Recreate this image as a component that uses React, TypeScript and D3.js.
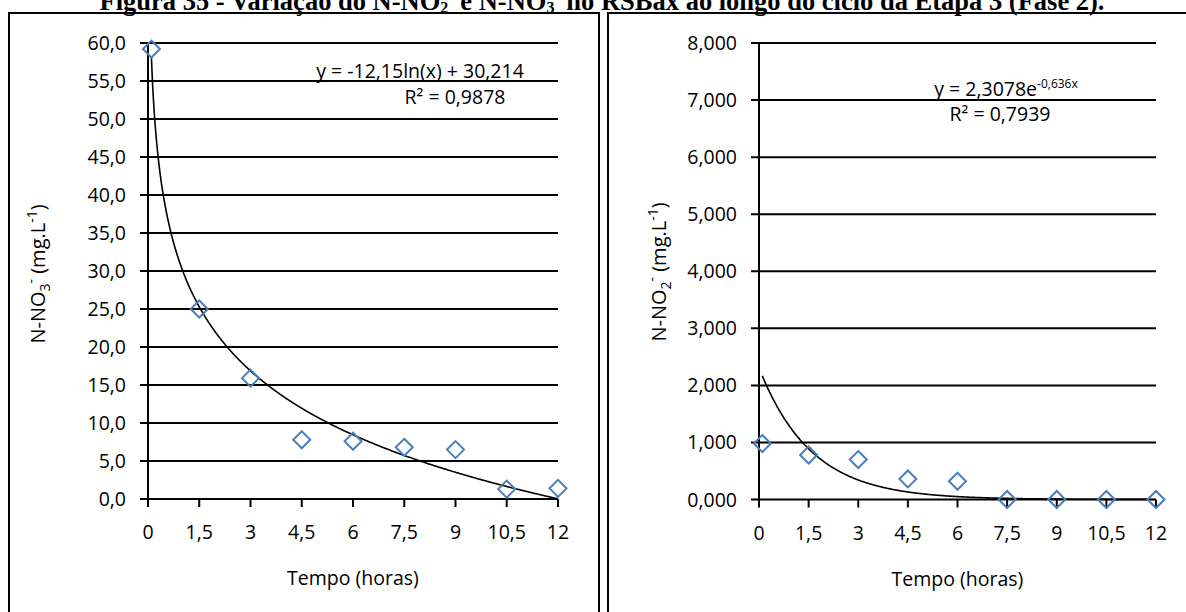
import React from "react";
import * as d3 from "d3";

const timeTicks = [0, 1.5, 3, 4.5, 6, 7.5, 9, 10.5, 12];
const sampleTimes = [0.1, 1.5, 3, 4.5, 6, 7.5, 9, 10.5, 12];
const no3Values = [59.2, 25.0, 15.9, 7.8, 7.6, 6.8, 6.5, 1.3, 1.4];
const no2Values = [0.98, 0.78, 0.7, 0.36, 0.32, 0, 0, 0, 0];
const no3Ticks = [0, 5, 10, 15, 20, 25, 30, 35, 40, 45, 50, 55, 60];
const no2Ticks = [0, 1, 2, 3, 4, 5, 6, 7, 8];
const no3FitCoef = { a: -12.15, b: 30.214 };
const no2FitCoef = { a: 2.3078, b: -0.636 };

const FONT = "'Open Sans', sans-serif";
const FS = 19.5;
const BLUE = "#4A7EBB";

const comma = (s: string) => s.replace(".", ",");
const fmtTime = (v: number) => comma(String(v));

type PanelProps = {
  plotL: number;
  plotR: number;
  plotT: number;
  plotB: number;
  yMax: number;
  yTicks: number[];
  yFmt: (v: number) => string;
  values: number[];
  fit: (x: number) => number;
  yTitle: React.ReactNode;
  yTitleX: number;
  yTitleY: number;
  children?: React.ReactNode;
};

function Panel(p: PanelProps) {
  const x = d3.scaleLinear().domain([0, 12]).range([p.plotL, p.plotR]);
  const y = d3.scaleLinear().domain([0, p.yMax]).range([p.plotB, p.plotT]);
  const fitXs = d3.range(0.1, 12.0001, 0.02);
  const line = d3
    .line<number>()
    .x((d) => x(d))
    .y((d) => y(d3.max([0, p.fit(d)]) as number))
    .curve(d3.curveLinear);
  const r = 8.5;
  return (
    <g>
      {p.yTicks.map((t) => (
        <g key={"g" + t}>
          <line x1={p.plotL - 8} x2={p.plotR} y1={y(t)} y2={y(t)} stroke="#000" strokeWidth={2} />
          <text
            x={p.plotL - 22}
            y={y(t)}
            dy="0.36em"
            textAnchor="end"
            fontFamily={FONT}
            fontSize={FS}
            fill="#000"
          >
            {p.yFmt(t)}
          </text>
        </g>
      ))}
      <line x1={p.plotL} x2={p.plotL} y1={p.plotT} y2={p.plotB + 1} stroke="#000" strokeWidth={2} />
      {timeTicks.map((t) => (
        <g key={"x" + t}>
          <line x1={x(t)} x2={x(t)} y1={p.plotB} y2={p.plotB + 8} stroke="#000" strokeWidth={2} />
          <text
            x={x(t)}
            y={p.plotB + 40}
            textAnchor="middle"
            fontFamily={FONT}
            fontSize={FS}
            fill="#000"
          >
            {fmtTime(t)}
          </text>
        </g>
      ))}
      <text
        x={(p.plotL + p.plotR) / 2}
        y={p.plotB + 86}
        textAnchor="middle"
        fontFamily={FONT}
        fontSize={FS}
        fill="#000"
      >
        Tempo (horas)
      </text>
      <text
        transform={`translate(${p.yTitleX},${p.yTitleY}) rotate(-90)`}
        textAnchor="middle"
        dy="0.35em"
        fontFamily={FONT}
        fontSize={20}
        fill="#000"
      >
        {p.yTitle}
      </text>
      <path d={line(fitXs) || ""} fill="none" stroke="#000" strokeWidth={1.6} />
      {sampleTimes.map((t, i) => {
        const cx = x(t);
        const cy = y(p.values[i]);
        return (
          <path
            key={"m" + i}
            d={`M${cx},${cy - r}L${cx + r},${cy}L${cx},${cy + r}L${cx - r},${cy}Z`}
            fill="none"
            stroke={BLUE}
            strokeWidth={2}
          />
        );
      })}
      {p.children}
    </g>
  );
}

export default function App() {
  const eqStyle = { fontFamily: FONT, fontSize: FS, fill: "#000" } as const;
  return (
    <div style={{ position: "absolute", left: 0, top: 0 }}>
      <svg width={1186} height={612} style={{ display: "block", background: "#fff" }}>
        <rect x={0} y={0} width={1186} height={612} fill="#fff" />
        <text
          x={602}
          y={10}
          textAnchor="middle"
          fontFamily="'Liberation Serif', 'Times New Roman', serif"
          fontWeight="bold"
          fontSize={26.5}
          fill="#000"
        >
          Figura 35 - Variação do N-NO
          <tspan fontSize={16} dy={3}>2</tspan>
          <tspan fontSize={16} dy={-11}>-</tspan>
          <tspan dy={8}> e N-NO</tspan>
          <tspan fontSize={16} dy={3}>3</tspan>
          <tspan fontSize={16} dy={-11}>-</tspan>
          <tspan dy={8}> no RSBax ao longo do ciclo da Etapa 3 (Fase 2).</tspan>
        </text>
        <rect x={9} y={13} width={590} height={640} fill="none" stroke="#000" strokeWidth={2} />
        <rect x={608} y={13} width={620} height={640} fill="none" stroke="#000" strokeWidth={2} />

        <Panel
          plotL={148}
          plotR={558}
          plotT={43}
          plotB={499}
          yMax={60}
          yTicks={no3Ticks}
          yFmt={(v) => comma(d3.format(".1f")(v))}
          values={no3Values}
          fit={(t) => no3FitCoef.a * Math.log(t) + no3FitCoef.b}
          yTitleX={38}
          yTitleY={274}
          yTitle={
            <>
              N-NO
              <tspan fontSize={14} dy={5}>3</tspan>
              <tspan fontSize={14} dy={-14}>-</tspan>
              <tspan dy={9}> (mg.L</tspan>
              <tspan fontSize={14} dy={-8}>-1</tspan>
              <tspan dy={8}>)</tspan>
            </>
          }
        >
          <text x={420} y={78} textAnchor="middle" {...eqStyle}>
            y = -12,15ln(x) + 30,214
          </text>
          <text x={455} y={104} textAnchor="middle" {...eqStyle}>
            R² = 0,9878
          </text>
        </Panel>

        <Panel
          plotL={759}
          plotR={1156}
          plotT={43}
          plotB={499.5}
          yMax={8}
          yTicks={no2Ticks}
          yFmt={(v) => comma(d3.format(".3f")(v))}
          values={no2Values}
          fit={(t) => no2FitCoef.a * Math.exp(no2FitCoef.b * t)}
          yTitleX={659}
          yTitleY={272}
          yTitle={
            <>
              N-NO
              <tspan fontSize={14} dy={5}>2</tspan>
              <tspan fontSize={14} dy={-14}>-</tspan>
              <tspan dy={9}> (mg.L</tspan>
              <tspan fontSize={14} dy={-8}>-1</tspan>
              <tspan dy={8}>)</tspan>
            </>
          }
        >
          <text x={1006} y={96} textAnchor="middle" {...eqStyle}>
            y = 2,3078e
            <tspan fontSize={12} dy={-8}>-0,636x</tspan>
          </text>
          <text x={1000} y={121} textAnchor="middle" {...eqStyle}>
            R² = 0,7939
          </text>
        </Panel>
      </svg>
    </div>
  );
}
